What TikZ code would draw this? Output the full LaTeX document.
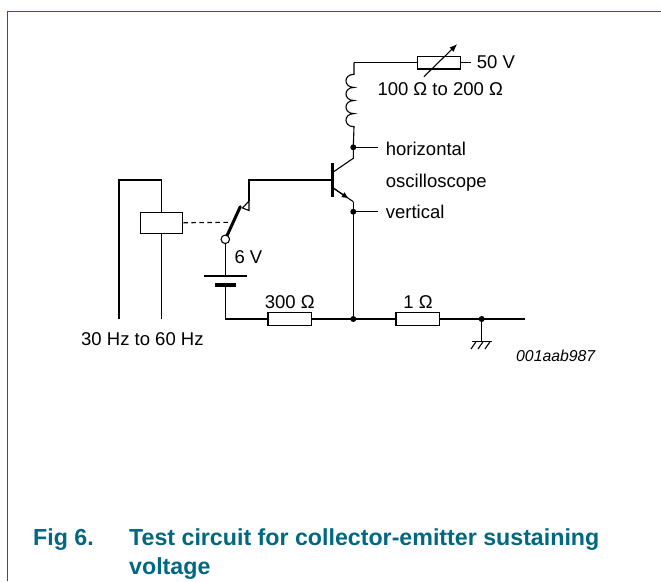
\documentclass[tikz,border=0pt]{standalone}
\usepackage{fontspec}
\setmainfont{Liberation Sans}
\usetikzlibrary{arrows.meta,calc}
\definecolor{nxpteal}{RGB}{0,104,128}
\begin{document}
\begin{tikzpicture}[x=1pt,y=-1pt,
  wire/.style={line width=1.1pt, black},
  res/.style={draw, line width=1.1pt, minimum width=43.5pt, minimum height=12.5pt, inner sep=0pt, fill=white},
  lbl/.style={inner sep=0pt, font=\fontsize{18.5pt}{22pt}\selectfont},
  code/.style={inner sep=0pt, font=\fontsize{15.8pt}{19pt}\selectfont\itshape},
  title/.style={inner sep=0pt, text=nxpteal, font=\fontsize{23.2pt}{28pt}\selectfont\bfseries},
  jdot/.style={circle, fill=black, inner sep=0pt, minimum size=6pt},
  plate/.style={line width=4pt},
  blade/.style={line width=3pt, line cap=round}]
\useasboundingbox (0,0) rectangle (661,581);
% frame
\draw[nxpteal, line width=1.5pt] (7.3,581) -- (7.3,11.5) -- (661,11.5);

% ---- collector supply ----
\coordinate (Ltop) at (354,62.7);
\node[res] (Rv) at (438.9,62.7) {};
\coordinate (V50) at (470.7,62.7);
\node[lbl, anchor=base west] (t50) at (476.7,68) {50 V};
\node[lbl, anchor=base west] (tRv) at (377.3,95) {100 Ω to 200 Ω};
\draw[wire] (Ltop) -- (Rv.west);
\draw[wire] (Rv.east) -- (V50);
\draw[wire, -{Latex[length=8pt,width=6pt]}] ($(Rv.center)+(-15,14)$) -- ($(Rv.center)+(18.4,-18.7)$);

% inductor + collector
\coordinate (Cj) at (353.3,147.3);
\draw[wire] (Ltop) -- (354,74.3)
  \foreach \i in {0,...,3}{ .. controls ({343.3},{74.3+13.1*\i}) and ({343.3},{74.3+13.1*(\i+1)}) .. ({354},{74.3+13.1*(\i+1)}) }
  -- (Cj);
\node[jdot] (dCj) at (Cj) {};
\coordinate (Hend) at (378.3,147.3);
\draw[wire] (Cj) -- (Hend);
\node[lbl, anchor=base west] (thor) at (385.7,155) {horizontal};
\node[lbl, anchor=base west] (tosc) at (385.7,187) {oscilloscope};

% transistor
\coordinate (Ck) at (353.3,158.3);
\coordinate (Cb) at (332.5,172.5);
\coordinate (Eb) at (332.5,187.5);
\coordinate (Ek) at (353.3,201.7);
\coordinate (Bt) at (332.3,163.3);
\coordinate (Bbot) at (332.3,196.7);
\coordinate (B) at (332.3,180);
\draw[wire] (Cj) -- (Ck) -- (Cb);
\draw[line width=2.6pt] (Bt) -- (Bbot);
\draw[wire] (Eb) -- (Ek);
\draw[wire, -{Latex[length=7pt,width=6pt]}] (Eb) -- ($(Eb)!0.78!(Ek)$);
\coordinate (Ej) at (353.3,211.7);
\draw[wire] (Ek) -- (Ej);
\node[jdot] (dEj) at (Ej) {};
\coordinate (Vend) at (378.3,211.7);
\draw[wire] (Ej) -- (Vend);
\node[lbl, anchor=base west] (tver) at (385.7,218.5) {vertical};

% base / switch
\coordinate (Bc) at (249,180);
\coordinate (K) at (249,201);
\draw[wire] (B) -- (Bc) -- (K);
\draw[wire, fill=white] (K) -- (249,210.5) -- (242.5,208) -- cycle;
\node[circle, draw, line width=1.1pt, fill=white, inner sep=0pt, minimum size=8.5pt] (sw) at (225.3,239.3) {};
\coordinate (bladeEnd) at (240.3,206.7);
\draw[blade] (sw.65) -- (bladeEnd);
\node[lbl, anchor=base west] (t6v) at (234.3,263.3) {6 V};

% battery
\coordinate (Pt) at (225.3,276);
\coordinate (Pb) at (225.3,284.7);
\draw[wire] (sw.south) -- (Pt);
\draw[wire] (204.3,276) -- (246.7,276);
\draw[plate] (215,284.7) -- (236,284.7);

% relay
\node[draw, line width=1.1pt, minimum width=42.7pt, minimum height=21pt, inner sep=0pt] (relay) at (161.5,222.8) {};
\coordinate (RLa) at (119,319.3);
\coordinate (RLb) at (161.5,319.3);
\draw[wire] (RLa) -- (119,180) -- (161.5,180) -- (relay.north);
\draw[wire] (relay.south) -- (RLb);
\coordinate (dashEnd) at (230,222.3);
\draw[line width=1.1pt, dash pattern=on 4.5pt off 3.5pt] (relay.east) -- (dashEnd);
\node[lbl, anchor=base west] (thz) at (81,345) {30 Hz to 60 Hz};

% bottom line
\coordinate (BL) at (225.3,319);
\node[res] (R300) at (289.7,319) {};
\node[res] (R1) at (417.7,319) {};
\coordinate (J1) at (353.3,319);
\coordinate (G) at (481.7,319);
\coordinate (Wend) at (525,319);
\draw[wire] (Pb) -- (BL) -- (R300.west);
\draw[wire] (R300.east) -- (R1.west);
\draw[wire] (R1.east) -- (Wend);
\draw[wire] (Ej) -- (J1);
\node[jdot] (dJ1) at (J1) {};
\node[jdot] (dG) at (G) {};
\node[lbl, anchor=base] (t300) at (289.7,308.3) {300 Ω};
\node[lbl, anchor=base] (t1) at (418,308.3) {1 Ω};

% ground
\coordinate (Gb) at (481.7,341.7);
\draw[wire] (G) -- (Gb);
\draw[wire] (472,341.7) -- (492,341.7);
\foreach \x in {476,483,490}{ \draw[wire] (\x,341.7) -- (\x-5,349); }

\node[code, anchor=base west] (tid) at (516,361.7) {001aab987};

% caption
\node[title, anchor=base west] (tfig) at (33,545.5) {Fig 6.};
\node[title, anchor=base west] (tcap1) at (129,545.5) {Test circuit for collector-emitter sustaining};
\node[title, anchor=base west] (tcap2) at (129,574) {voltage};
\end{tikzpicture}
\end{document}
